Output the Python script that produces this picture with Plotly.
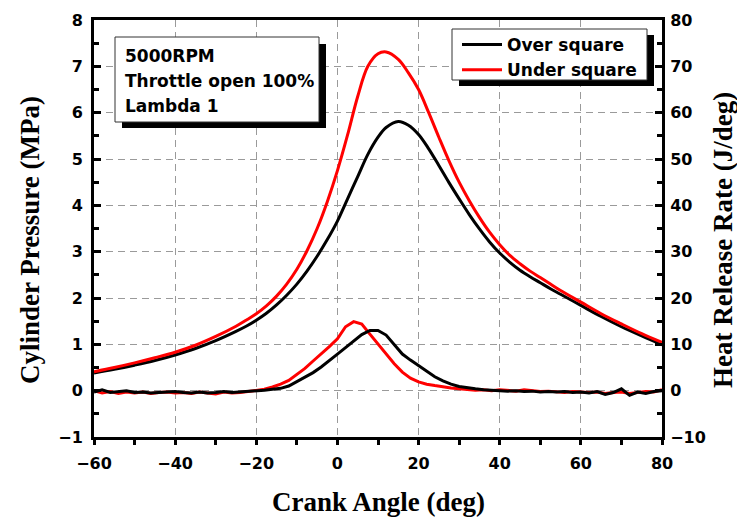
import plotly.graph_objects as go

# ---------------- data ----------------
crank_p = [-60, -55, -50, -45, -40, -35, -30, -25, -22.5, -20, -17.5, -15, -12.5, -10, -7.5,
           -5, -2.5, 0, 2.5, 5, 7.5, 10, 12, 15, 17.5, 20, 22.5, 25, 27.5, 30, 32.5, 35,
           37.5, 40, 42.5, 45, 47.5, 50, 52.5, 55, 60, 65, 70, 75, 80]
over_pressure = [0.38, 0.46, 0.55, 0.65, 0.77, 0.91, 1.08, 1.28, 1.39, 1.52, 1.67, 1.85, 2.06,
                 2.30, 2.58, 2.90, 3.26, 3.66, 4.14, 4.62, 5.10, 5.47, 5.68, 5.81, 5.73,
                 5.53, 5.22, 4.86, 4.49, 4.14, 3.80, 3.49, 3.21, 2.97, 2.77, 2.60, 2.46,
                 2.33, 2.20, 2.08, 1.84, 1.60, 1.38, 1.18, 0.99]
under_pressure = [0.41, 0.50, 0.60, 0.71, 0.83, 0.98, 1.17, 1.39, 1.52, 1.66, 1.83, 2.04, 2.30,
                  2.62, 3.02, 3.50, 4.08, 4.75, 5.52, 6.35, 7.00, 7.27, 7.31, 7.15, 6.86,
                  6.50, 6.00, 5.47, 4.96, 4.50, 4.10, 3.74, 3.42, 3.15, 2.92, 2.74, 2.58,
                  2.44, 2.30, 2.16, 1.91, 1.66, 1.44, 1.23, 1.04]

crank_h = list(range(-60, 81, 2))
over_hrr = [-0.3, 0.2, -0.4, -0.2, 0.0, -0.4, -0.3, -0.5, -0.4, -0.3, -0.2, -0.4, -0.5, -0.3,
            -0.5, -0.4, -0.2, -0.4, -0.3, -0.1, 0.0, 0.1, 0.3, 0.5, 1.0, 2.0, 2.9, 3.9, 5.1,
            6.4, 7.9, 9.3, 10.8, 12.1, 13.0, 13.0, 12.0, 10.0, 7.9, 6.6, 5.4, 4.2, 3.0, 2.1,
            1.4, 0.9, 0.6, 0.4, 0.2, 0.1, 0.0, -0.1, 0.0, -0.2, -0.1, -0.3, -0.2, -0.3, -0.2,
            -0.4, -0.3, -0.5, -0.2, -0.8, -0.4, 0.4, -1.0, -0.3, -0.6, -0.2, 0.0]
under_hrr = [0.0, -0.5, -0.2, -0.6, -0.3, -0.5, -0.3, -0.6, -0.4, -0.3, -0.5, -0.4, -0.6, -0.3,
             -0.5, -0.7, -0.3, -0.5, -0.4, -0.2, 0.0, 0.3, 0.8, 1.4, 2.2, 3.5, 4.8, 6.4, 7.9,
             9.5, 11.2, 13.8, 14.9, 14.4, 12.2, 10.0, 7.9, 5.8, 4.0, 2.7, 1.9, 1.4, 1.1, 0.8,
             0.6, 0.4, 0.2, 0.1, 0.2, 0.0, 0.2, 0.1, -0.1, 0.2, 0.0, -0.2, -0.1, -0.3, -0.4,
             -0.2, -0.3, -0.4, -0.3, -0.6, -0.4, -0.3, -0.6, -0.4, -0.2, -0.3, 0.2]

info_lines = ["5000RPM", "Throttle open 100%", "Lambda 1"]
series_names = ["Over square", "Under square"]
x_ticks = [-60, -40, -20, 0, 20, 40, 60, 80]

# ---------------- layout helpers (window pixel coords) ----------------
W, H = 745, 519
OFF = 8                      # page body margin offsets the figure in the window
PL, PR, PT, PB = 94, 662, 20, 437   # desired plot-area edges in the window
L, T = PL - OFF, PT - OFF
R = W - (PR - OFF)
B = H - (PB - OFF)


def fx(px):
    return (px - PL) / (PR - PL)


def fy(py):
    return (PB - py) / (PB - PT)


BLACK = "#000000"
RED = "#ff0000"
TICKFONT = dict(family="DejaVu Sans", size=16, color="black", weight="bold")
TITLEFONT = dict(family="Liberation Serif", size=27, color="black", weight="bold")
GRID = dict(showgrid=True, gridcolor="#9a9a9a", griddash="7px,5px", gridwidth=1.3)

fig = go.Figure()
fig.add_trace(go.Scatter(x=crank_p, y=over_pressure, mode="lines", name=series_names[0],
                         line=dict(color=BLACK, width=3, shape="spline", smoothing=1.0),
                         legendgroup="o"))
fig.add_trace(go.Scatter(x=crank_p, y=under_pressure, mode="lines", name=series_names[1],
                         line=dict(color=RED, width=3, shape="spline", smoothing=1.0),
                         legendgroup="u"))
fig.add_trace(go.Scatter(x=crank_h, y=under_hrr, mode="lines", yaxis="y2", showlegend=False,
                         line=dict(color=RED, width=3), legendgroup="u"))
fig.add_trace(go.Scatter(x=crank_h, y=over_hrr, mode="lines", yaxis="y2", showlegend=False,
                         line=dict(color=BLACK, width=3), legendgroup="o"))

shapes = []
# info box shadow + box
shapes.append(dict(type="rect", xref="paper", yref="paper", layer="above",
                   x0=fx(122), x1=fx(326), y0=fy(128), y1=fy(44),
                   fillcolor="black", line=dict(width=0)))
shapes.append(dict(type="rect", xref="paper", yref="paper", layer="above",
                   x0=fx(115), x1=fx(319), y0=fy(122), y1=fy(37),
                   fillcolor="white", line=dict(color="#333", width=1)))
# legend shadow + box
shapes.append(dict(type="rect", xref="paper", yref="paper", layer="above",
                   x0=fx(459), x1=fx(654), y0=fy(86), y1=fy(35),
                   fillcolor="black", line=dict(width=0)))
shapes.append(dict(type="rect", xref="paper", yref="paper", layer="above",
                   x0=fx(452), x1=fx(647), y0=fy(80), y1=fy(29),
                   fillcolor="white", line=dict(color="#333", width=1)))

annotations = []
for txt, yc in zip(info_lines, [55.5, 81, 106]):
    annotations.append(dict(text=txt, xref="paper", yref="paper", x=fx(123), y=fy(yc),
                            xanchor="left", yanchor="middle", showarrow=False,
                            font=dict(family="DejaVu Sans", size=17, color="black",
                                      weight="bold")))
annotations.append(dict(text="Crank Angle (deg)", xref="paper", yref="paper", x=0.5, y=0,
                        xanchor="center", yanchor="middle", yshift=-(502 - PB),
                        showarrow=False, font=TITLEFONT))
annotations.append(dict(text="Cylinder Pressure (MPa)", xref="paper", yref="paper", x=0,
                        y=fy(240), xanchor="center", yanchor="middle", xshift=30 - PL,
                        textangle=-90, showarrow=False, font=TITLEFONT))
annotations.append(dict(text="Heat Release Rate (J/deg)", xref="paper", yref="paper", x=1,
                        y=fy(240), xanchor="center", yanchor="middle", xshift=723 - PR,
                        textangle=-90, showarrow=False, font=TITLEFONT))

fig.update_layout(
    width=W, height=H,
    margin=dict(l=L, r=R, t=T, b=B, pad=0, autoexpand=False),
    paper_bgcolor="white", plot_bgcolor="white",
    showlegend=True,
    legend=dict(x=fx(457), y=fy(27), xanchor="left", yanchor="top",
                bgcolor="rgba(0,0,0,0)", borderwidth=0,
                font=dict(family="DejaVu Sans", size=17, color="black", weight="bold"),
                itemwidth=40, tracegroupgap=0),
    xaxis=dict(range=[-60, 80], tickvals=x_ticks, ticks="outside", ticklen=5, tickwidth=2.5,
               tickcolor="black", showline=True, linewidth=3, linecolor="black", mirror=True,
               zeroline=False, tickfont=TICKFONT, ticklabelstandoff=5,
               minor=dict(dtick=10, ticks="outside", ticklen=5, tickwidth=2.5,
                          tickcolor="black", showgrid=False), **GRID),
    yaxis=dict(range=[-1, 8], dtick=1, ticks="inside", ticklen=7, tickwidth=2.5,
               tickcolor="black", showline=True, linewidth=3, linecolor="black",
               zeroline=False, tickfont=TICKFONT, ticklabelstandoff=5,
               minor=dict(dtick=0.5, ticks="inside", ticklen=5, tickwidth=2.5,
                          tickcolor="black", showgrid=False), **GRID),
    yaxis2=dict(range=[-10, 80], dtick=10, overlaying="y", side="right", ticks="inside",
                ticklen=7, tickwidth=2.5, tickcolor="black", showline=True, linewidth=3,
                linecolor="black", showgrid=False, zeroline=False, tickfont=TICKFONT,
                ticklabelstandoff=2,
                minor=dict(dtick=5, ticks="inside", ticklen=5, tickwidth=2.5,
                           tickcolor="black", showgrid=False)),
    shapes=shapes,
    annotations=annotations,
)

fig.write_html("out.html")
